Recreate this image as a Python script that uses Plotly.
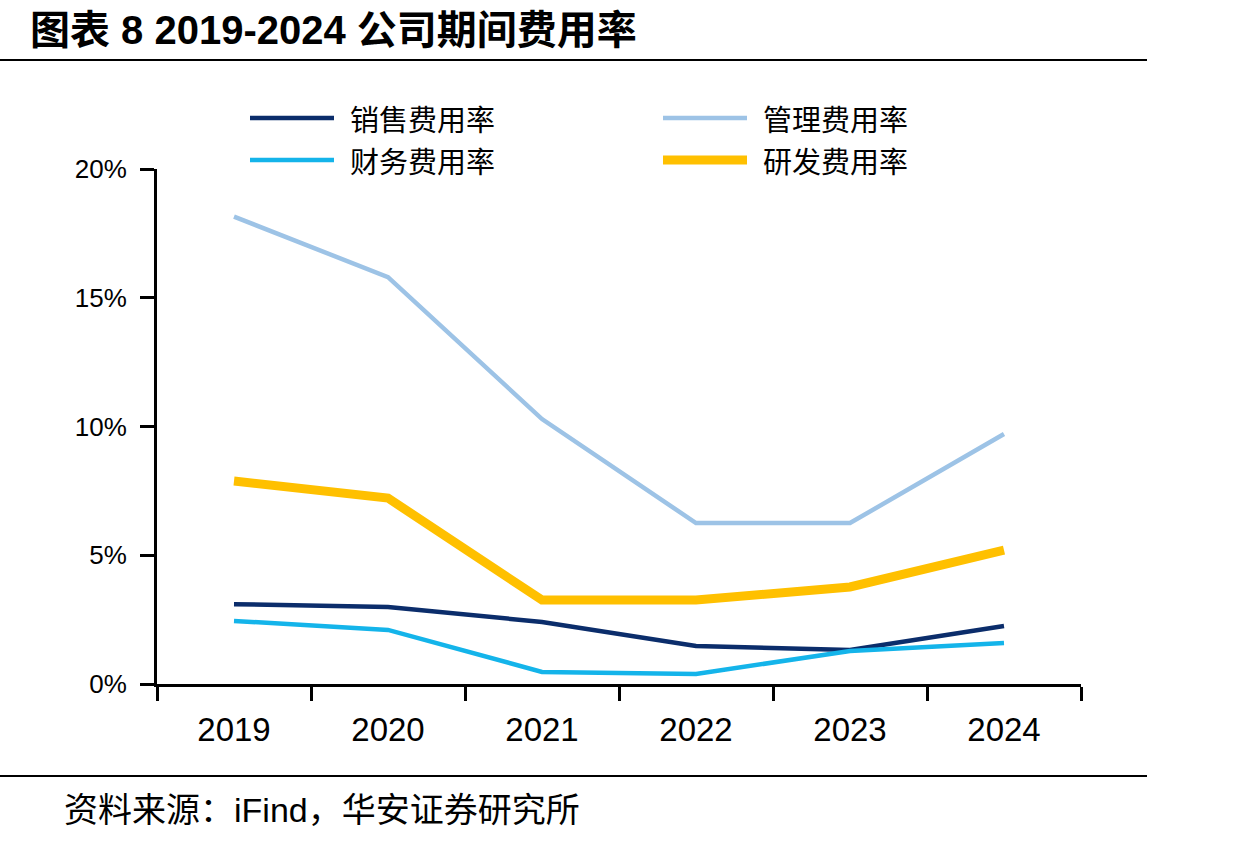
import plotly.graph_objects as go

years = ["2019", "2020", "2021", "2022", "2023", "2024"]
series_names = ["销售费用率", "管理费用率", "财务费用率", "研发费用率"]
sales = [3.10, 2.99, 2.41, 1.48, 1.32, 2.25]
admin = [18.15, 15.80, 10.29, 6.25, 6.25, 9.71]
finance = [2.45, 2.10, 0.47, 0.39, 1.28, 1.59]
rnd = [7.88, 7.22, 3.26, 3.26, 3.77, 5.20]
y_ticks = [0, 5, 10, 15, 20]
y_tick_labels = ["0%", "5%", "10%", "15%", "20%"]

colors = ["#0b2d6b", "#9dc3e6", "#14b4ea", "#ffc000"]
widths = [4.5, 4.5, 4.5, 9]
values = [sales, admin, finance, rnd]

W, H = 1257, 844
L, R, T, B = 157, 176, 169, 160

fig = go.Figure()
for name, vals, c, w in zip(series_names, values, colors, widths):
    fig.add_trace(go.Scatter(x=years, y=vals, mode="lines", name=name,
                             line=dict(color=c, width=w), showlegend=False))

cn = "Noto Sans CJK SC"
PW, PH = W - L - R, H - T - B

def fx(p):
    return (p - L) / PW

def fy(p):
    return (H - B - p) / PH

shapes = []
annotations = []
# legend (manual, two columns)
leg_pos = [(250, 118), (663, 118), (250, 160), (663, 160)]
for (lx, ly), name, c, w in zip(leg_pos, series_names, colors, widths):
    shapes.append(dict(type="line", xref="paper", yref="paper",
                       x0=fx(lx), x1=fx(lx + 84), y0=fy(ly), y1=fy(ly),
                       line=dict(color=c, width=w)))
    annotations.append(dict(xref="paper", yref="paper",
                            x=fx(lx + 98), y=fy(ly),
                            text=name, showarrow=False, xanchor="left", yanchor="middle",
                            font=dict(family=cn, size=29, color="#000000")))

def hline(py, x0, x1, w):
    shapes.append(dict(type="line", xref="paper", yref="paper",
                       x0=fx(x0), x1=fx(x1), y0=fy(py), y1=fy(py),
                       line=dict(color="#000000", width=w)))

hline(60, 0, 1147, 2)
hline(776, 0, 1147, 2)

annotations.append(dict(xref="paper", yref="paper",
                        x=fx(28), y=fy(30),
                        text="<b>图表 8 2019-2024 公司期间费用率</b>", showarrow=False,
                        xanchor="left", yanchor="middle",
                        font=dict(family="Liberation Sans, " + cn, size=40, color="#000000")))
annotations.append(dict(xref="paper", yref="paper",
                        x=fx(62), y=fy(810),
                        text="资料来源：iFind，华安证券研究所", showarrow=False,
                        xanchor="left", yanchor="middle",
                        font=dict(family="Liberation Sans, " + cn, size=34, color="#000000")))

fig.update_layout(
    width=W, height=H,
    margin=dict(l=L, r=R, t=T, b=B, pad=0),
    paper_bgcolor="white", plot_bgcolor="white",
    shapes=shapes, annotations=annotations,
    showlegend=False,
)
fig.update_xaxes(type="category", range=[-0.5, 5.5], showgrid=False,
                 showline=True, linecolor="#000000", linewidth=3,
                 ticks="outside", tickson="boundaries", ticklen=14, tickwidth=3,
                 tickcolor="#000000", ticklabelstandoff=14,
                 tickfont=dict(family="Liberation Sans", size=33, color="#000000"))
fig.update_yaxes(range=[0, 20], showgrid=False, zeroline=False,
                 showline=True, linecolor="#000000", linewidth=3,
                 ticks="outside", ticklen=14, tickwidth=3, tickcolor="#000000",
                 tickvals=y_ticks, ticktext=y_tick_labels, ticklabelstandoff=8,
                 tickfont=dict(family="Liberation Sans", size=26, color="#000000"))

fig.write_html("out.html")
